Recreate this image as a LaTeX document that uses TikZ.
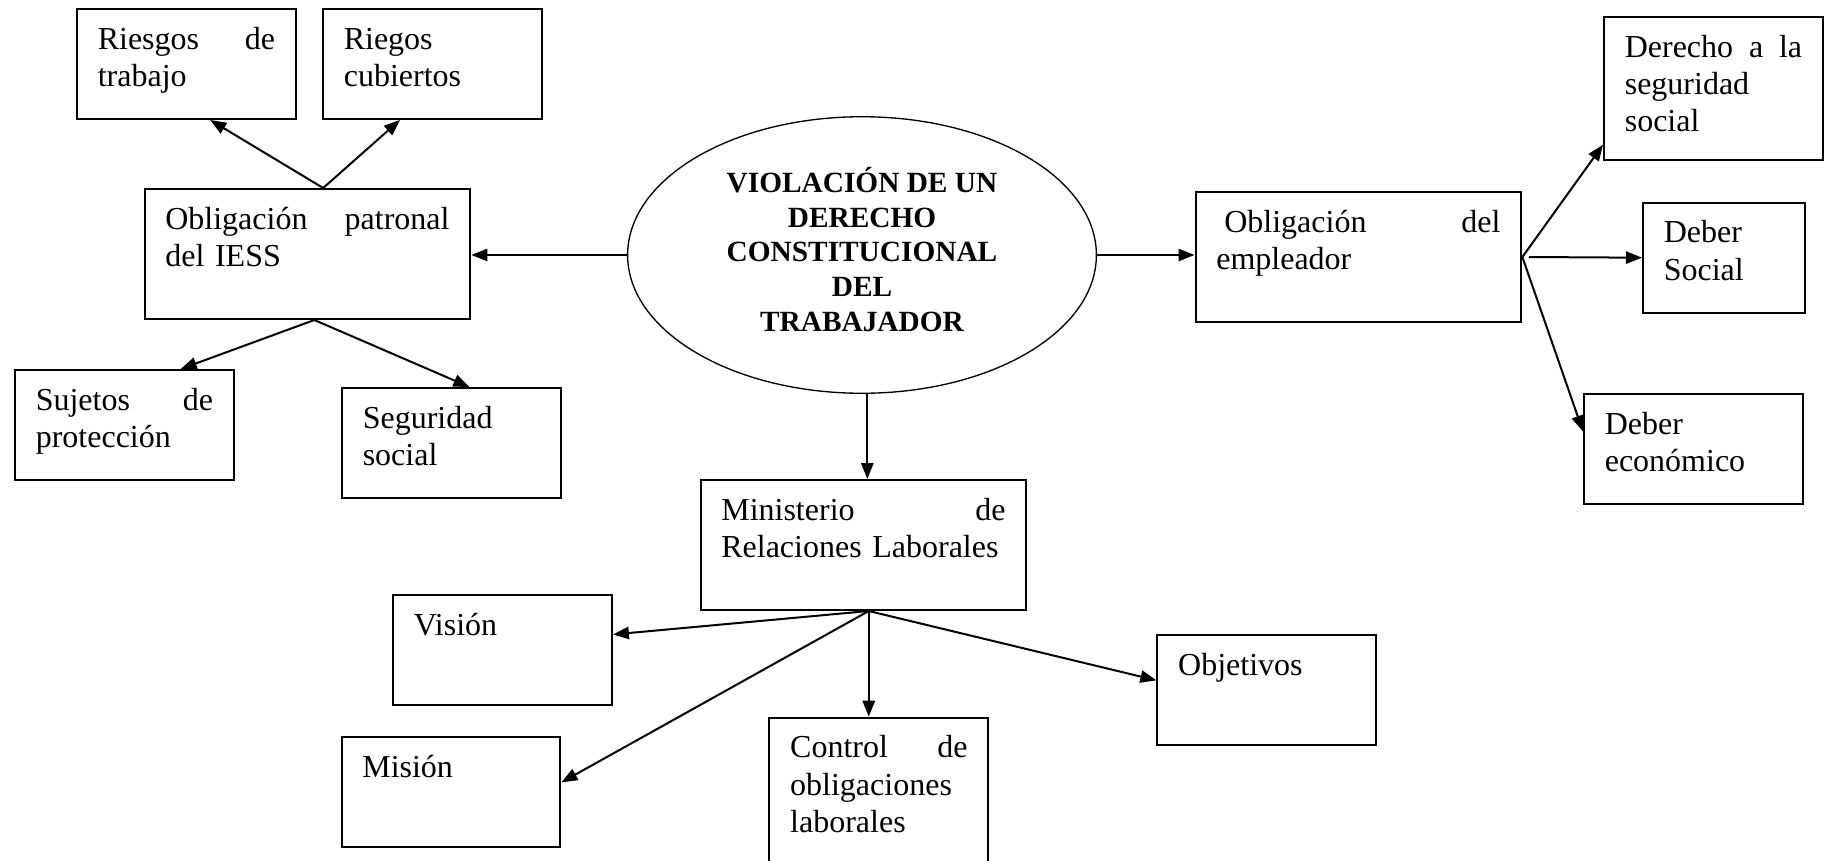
\documentclass[tikz,border=0pt]{standalone}
\usepackage{fontspec}
\setmainfont{Liberation Serif}
\usetikzlibrary{arrows.meta, shapes.geometric}

\tikzset{
  box/.style={draw, line width=0.75pt, rectangle, anchor=north west, inner xsep=7.8pt, inner ysep=0pt,
    text height=15pt, align=left, font=\fontsize{12}{14}\selectfont},
  sbox/.style={box, text width=66.5pt, text depth=26.25pt},
  wbox/.style={box, text width=106.6pt, text depth=33.75pt},
  arr/.style={line width=0.75pt, -{Triangle[length=6pt,width=4.6pt]}}
}

\begin{document}
\begin{tikzpicture}[x=0.375pt, y=-0.375pt]
  \useasboundingbox (0,0) rectangle (1827,861);

  % centre
  \node[draw, ellipse, line width=0.5pt, minimum width=175.8pt, minimum height=103.7pt, inner sep=0pt,
        align=center, text depth=4.4pt, font=\fontsize{11}{13}\selectfont\bfseries] (viol) at (862,255)
        {VIOLACIÓN DE UN\\DERECHO\\CONSTITUCIONAL\\DEL\\TRABAJADOR};

  % left branch
  \node[wbox] (patronal) at (143.5,188) {Obligación\hfill patronal\\del IESS};
  \node[sbox] (rtrabajo) at (76,8) {Riesgos\hfill de\\trabajo};
  \node[sbox] (rcubiertos) at (322,8) {Riegos\\cubiertos};
  \node[sbox] (sujetos) at (14,369) {Sujetos\hfill de\\protección};
  \node[sbox] (seguridad) at (341,387) {Seguridad\\social};

  % right branch
  \node[wbox] (empleador) at (1194.5,191) {\hspace*{3pt}Obligación\hfill del\\empleador};
  \node[sbox, text depth=38.6pt] (derecho) at (1603,16) {Derecho\hfill a\hfill la\\seguridad\\social};
  \node[sbox, text width=45pt] (dsocial) at (1642,201.7) {Deber\\Social};
  \node[sbox] (deconomico) at (1583,393) {Deber\\económico};

  % lower branch
  \node[wbox] (ministerio) at (699.5,479) {Ministerio\hfill de\\Relaciones Laborales};
  \node[sbox] (vision) at (392,594) {Visión};
  \node[sbox] (mision) at (340.5,736) {Misión};
  \node[sbox, text depth=46.1pt] (control) at (768.4,716.7) {Control\hfill de\\obligaciones\\laborales};
  \node[sbox] (objetivos) at (1156.4,634) {Objetivos};

  % connectors
  \draw[arr] (viol.west) -- (viol.west -| patronal.east);
  \draw[arr] ([xshift=5.9pt]patronal.north) -- ([xshift=8.9pt]rtrabajo.south);
  \draw[arr] ([xshift=5.9pt]patronal.north) -- ([xshift=-12.2pt]rcubiertos.south);
  \draw[arr] ([xshift=2.6pt]patronal.south) -- ([xshift=21.1pt]sujetos.north);
  \draw[arr] ([xshift=2.6pt]patronal.south) -- ([xshift=6.75pt]seguridad.north);

  \draw[arr] (viol.east) -- (viol.east -| empleador.west);
  \draw[arr] (empleador.east) -- (derecho.207.2);
  \draw[arr] ([xshift=2.4pt]empleador.east) -- (dsocial.west);
  \draw[arr] (empleador.east) -- (deconomico.171.5);

  \draw[arr] ([xshift=2pt]viol.south) -- ([xshift=2pt]viol.south |- ministerio.north);
  \draw[arr] ([xshift=2pt]ministerio.south) -- (vision.8.2);
  \draw[arr] ([xshift=2pt]ministerio.south) -- (mision.5.7);
  \draw[arr] ([xshift=2pt]ministerio.south) -- ([xshift=2pt]ministerio.south |- control.north);
  \draw[arr] ([xshift=2pt]ministerio.south) -- (objetivos.175.3);
\end{tikzpicture}
\end{document}
